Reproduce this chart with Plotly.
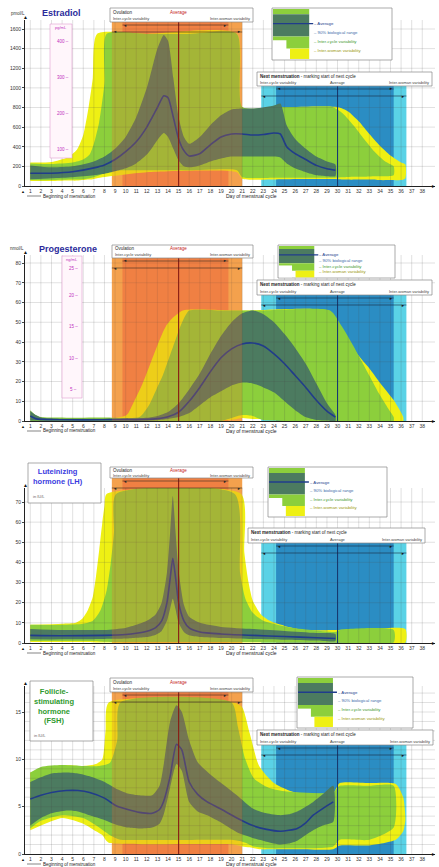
import plotly.graph_objects as go

# ---------------- data ----------------
DAY_TICKS = list(range(1, 39))

# Estradiol, pmol/L
E2_AVG_DAYS = [1, 3, 5, 7, 8, 9, 10, 11, 12, 12.5, 13, 13.6, 14, 14.5, 15, 15.5, 16, 17, 18, 19, 20, 21, 22, 23, 24, 24.6, 25.2, 26, 27, 28, 29, 29.8]
E2_AVG = [130, 130, 145, 185, 215, 270, 350, 450, 600, 700, 800, 920, 900, 700, 480, 360, 305, 330, 420, 500, 530, 530, 520, 525, 540, 530, 400, 330, 270, 210, 175, 160]
E2_RANGE_HI = [210, 190, 200, 250, 300, 380, 500, 700, 1000, 1200, 1400, 1540, 1480, 1100, 700, 500, 430, 500, 620, 720, 780, 790, 790, 800, 820, 840, 620, 480, 380, 300, 250, 220]
E2_RANGE_LO = [70, 80, 90, 110, 125, 150, 180, 230, 320, 390, 470, 540, 500, 380, 260, 200, 190, 210, 250, 280, 300, 300, 300, 300, 300, 290, 230, 180, 140, 110, 100, 100]
E2_CYCLE_DAYS = [1, 3, 5, 6, 6.6, 7, 7.5, 8, 8.2, 12, 16, 20.5, 21, 24, 27, 29.5, 30.5, 31.5, 32.5, 33.5, 34.5, 35.3]
E2_CYCLE_HI = [230, 225, 240, 270, 320, 430, 650, 1050, 1550, 1550, 1550, 1550, 805, 805, 805, 805, 740, 620, 480, 350, 250, 200]
E2_CYCLE_LO = [60, 60, 65, 70, 80, 90, 110, 130, 150, 160, 160, 160, 90, 85, 85, 85, 90, 95, 95, 100, 100, 110]
E2_WOMAN_DAYS = [1, 3, 4.5, 5.4, 6, 6.5, 6.9, 7.3, 12, 20.5, 21, 25, 30, 31, 32, 33, 34, 35, 36, 36.4]
E2_WOMAN_HI = [240, 245, 290, 370, 520, 800, 1100, 1550, 1550, 1550, 805, 805, 805, 760, 660, 530, 410, 310, 240, 220]
E2_WOMAN_LO = [50, 50, 55, 55, 60, 65, 70, 80, 140, 140, 75, 70, 70, 65, 65, 65, 60, 60, 60, 80]
E2_PGML_TICKS = [100, 200, 300, 400]
E2_PMOL_PER_PG = 3.671

# Progesterone, nmol/L
P4_AVG_DAYS = [1, 1.5, 2, 4, 8, 12, 13, 14, 15, 16, 17, 18, 19, 20, 21, 22, 23, 24, 25, 26, 27, 28, 29, 29.8]
P4_AVG = [2.5, 1.2, 0.8, 0.6, 0.6, 0.8, 1.2, 2.2, 4.5, 10, 17, 25, 32, 36.5, 39, 39.5, 38, 34, 29, 23, 17, 10.5, 5, 2]
P4_RANGE_HI = [5, 3, 1.8, 1.2, 1.2, 1.6, 2.5, 4.5, 9, 16, 24, 34, 43, 50, 54.5, 56, 54, 50, 44, 37, 29, 19, 9, 3]
P4_RANGE_LO = [0.3, 0.2, 0.2, 0.2, 0.2, 0.2, 0.4, 1, 2, 4, 8, 12, 15, 18, 19.5, 19, 17, 14.5, 10, 5.5, 2, 0.5, 0.2, 0]
P4_CYCLE_DAYS = [1, 1.5, 2, 8, 11.3, 12.2, 12.9, 13.5, 13.9, 14.5, 15.1, 15.6, 16, 19, 20, 21, 22, 23, 29.3, 30.4, 31.5, 32.3, 33.1, 33.9, 34.7, 35.3]
P4_CYCLE_HI = [5.5, 3, 2, 1.8, 2, 8, 16, 23, 29, 38, 47, 53, 56, 56, 56, 56, 56, 56, 56, 48, 38, 30, 22, 14, 7, 2]
P4_CYCLE_LO = [0, 0, 0, 0, 0, 0, 0, 0, 0, 0, 0, 0, 0, 0, 1.5, 3, 2.5, 0.5, 0, 0, 0, 0, 0, 0, 0, 0]
P4_WOMAN_DAYS = [9, 10.1, 10.8, 11.6, 12.4, 13.2, 13.8, 14.4, 15.4, 20, 21, 22, 28.6, 29.7, 30.9, 32, 33.1, 34.2, 35.3, 36.2]
P4_WOMAN_HI = [1.5, 3, 10, 19, 30, 41, 48, 52, 56, 56, 56, 56, 56, 49, 41, 33, 26, 18, 10.6, 2]
P4_WOMAN_LO = [0, 0, 0, 0, 0, 0, 0, 0, 0, 0.5, 1.5, 1, 0, 0, 0, 0, 0, 0, 0, 0]
P4_NGML_TICKS = [5, 10, 15, 20, 25]
P4_NMOL_PER_NG = 3.18

# Luteinizing hormone, IU/L
LH_AVG_DAYS = [1, 4, 8, 10, 11, 12, 12.8, 13.4, 13.9, 14.2, 14.45, 14.7, 15, 15.5, 16, 17, 19, 22, 25, 28, 29.8]
LH_AVG = [3.8, 3.6, 3.8, 4.2, 4.8, 5.8, 7.5, 11, 20, 32, 42, 33, 20, 11, 7.5, 5.5, 4.5, 3.8, 3.2, 2.6, 2.2]
LH_RANGE_HI = [7, 6.5, 6.5, 7.5, 9, 11, 14, 20, 35, 55, 73, 56, 36, 19, 13, 10, 8, 7, 6, 5, 4.5]
LH_RANGE_LO = [1.8, 1.8, 2, 2.2, 2.6, 3, 4, 6, 11, 17, 22, 17, 10, 5.5, 3.8, 3, 2.5, 2, 1.6, 1.2, 1]
LH_CYCLE_DAYS = [1, 4, 6, 6.9, 7.6, 8.2, 8.6, 8.9, 9.1, 20.3, 20.8, 21.3, 22, 23, 25.2, 27.5, 29.8, 30.2, 35.3]
LH_CYCLE_HI = [9, 9, 9.5, 11, 16, 26, 40, 55, 74, 74, 35, 22, 15, 11, 8, 6.5, 5.5, 6.5, 6.5]
LH_CYCLE_LO = [1, 1, 1, 1, 0.8, 0.6, 0.5, 0.5, 0.5, 0.5, 0.5, 0.5, 0.5, 0.5, 0.5, 0.5, 0.5, 0.3, 0.3]
LH_WOMAN_DAYS = [1, 4, 5.3, 5.9, 6.4, 6.9, 7.2, 7.5, 7.8, 8.0, 8.2, 20.9, 21.2, 21.6, 22, 22.8, 23.6, 25, 26.8, 29.8, 33, 36.4]
LH_WOMAN_HI = [9, 9.5, 10, 12, 16, 23, 33, 46, 60, 68, 74, 74, 45, 30, 21, 14, 11, 8.5, 6.5, 6.5, 7, 7]
LH_WOMAN_LO = [0.5, 0.5, 0.5, 0.5, 0.5, 0.4, 0.3, 0.3, 0.3, 0.2, 0.2, 0.2, 0.2, 0.2, 0.2, 0.2, 0.2, 0.2, 0.2, 0.2, 0.1, 0.1]

# Follicle-stimulating hormone, IU/L
FSH_AVG_DAYS = [1, 2, 3, 4.4, 5.5, 6.6, 8, 9.1, 10.2, 11.3, 12.5, 13.2, 13.6, 14.2, 14.8, 15.3, 16, 16.8, 17.7, 18.9, 20.5, 22, 23.3, 24.6, 25.4, 26.2, 27, 27.7, 28.6, 29.6]
FSH_AVG = [5.8, 6.2, 6.5, 6.7, 6.7, 6.5, 5.9, 5.1, 4.7, 4.4, 4.3, 4.7, 5.6, 8.2, 11.6, 11, 7.6, 6.3, 5.5, 4.8, 3.8, 3, 2.6, 2.4, 2.5, 2.7, 3.3, 4.1, 4.8, 5.5]
FSH_RANGE_HI = [7.6, 8.1, 8.5, 8.6, 8.5, 8.2, 7.6, 6.9, 6.4, 6.2, 6.2, 7.2, 9.5, 14, 15.7, 15, 12, 9.7, 8.7, 7.6, 6.2, 4.8, 4.3, 4.1, 4.2, 4.5, 5, 5.5, 6.3, 7.2]
FSH_RANGE_LO = [3, 3.8, 4.3, 4.6, 4.5, 4.1, 3.6, 3.1, 2.8, 2.7, 2.8, 3.2, 4.2, 7, 9.5, 8.8, 5.5, 4.5, 4.1, 3.4, 2.3, 1.7, 1.3, 1.0, 1.1, 1.4, 2, 2.5, 3, 3.4]
FSH_CYCLE_DAYS = [1, 2, 4, 6, 7.5, 8.5, 9.2, 9.5, 20, 20.6, 21.3, 22.1, 23.5, 25.2, 29.6, 30.2, 33, 35.3]
FSH_CYCLE_HI = [8.6, 9.2, 9.4, 9.3, 9.3, 9.6, 12, 16, 16, 13.4, 10, 8, 7, 6.6, 6.5, 7.2, 7.2, 7.2]
FSH_CYCLE_LO = [2.7, 3.5, 4.1, 3.8, 2.8, 2, 1.6, 1.5, 1.5, 1.4, 1.2, 0.8, 0.6, 0.6, 0.8, 1.5, 1.5, 2.8]
FSH_WOMAN_DAYS = [1, 4, 6, 7.2, 7.8, 8.1, 8.4, 20.2, 21, 21.7, 22.6, 24, 26, 29.6, 30.2, 33, 35.5, 36.2, 36.4]
FSH_WOMAN_HI = [8.6, 9.4, 9.3, 9.5, 10, 13, 16, 16, 15.5, 12.8, 9.3, 7.5, 6.5, 6.5, 7.5, 7.5, 7.4, 6, 4]
FSH_WOMAN_LO = [2.5, 3.8, 3.2, 2.4, 2, 1.5, 1.2, 1, 0.8, 0.7, 0.5, 0.5, 0.5, 0.5, 0.9, 0.9, 1.5, 2.4, 3.5]

# Phase regions (days)
OVULATION_DAY = 15
OVULATION_CYCLE = [9.7, 19.7]
OVULATION_WOMAN = [8.7, 21.0]
NEXT_MENS_DAY = 30
NEXT_MENS_CYCLE = [24.2, 35.3]
NEXT_MENS_WOMAN = [22.8, 36.5]

# ---------------- styling / layout helpers ----------------
W, H = 439, 867
ML, MR = 25, 4
PW = W - ML - MR
FONT = "Liberation Sans, Arial, sans-serif"
X_RANGE = [0.5, 39.2]

C_YELLOW = "#eef014"
C_LGREEN = "#8ccf3c"
C_DGREEN = "#4c7b60"
C_AVG = "#203c8c"
C_OR_IN = "#f2884c"
C_OR_OUT = "#f7b55a"
C_BL_IN = "#2b8dc3"
C_BL_OUT = "#5ad2e6"


def fx(px):
    return (px - ML) / PW


def fy(py):
    return 1 - py / H


PANELS = [
    dict(top=20, axis=186, per_unit=157 / 1600, dtick=200, tmax=1600, grid=200,
         orange_top=22, blue_top=86, ov_box=(110, 8, 253, 22), nm_box=(257, 72, 432, 86),
         legend=(272, 8, 392, 60),
         days=(E2_AVG_DAYS, E2_CYCLE_DAYS, E2_WOMAN_DAYS),
         avg=E2_AVG, rhi=E2_RANGE_HI, rlo=E2_RANGE_LO, chi=E2_CYCLE_HI, clo=E2_CYCLE_LO,
         whi=E2_WOMAN_HI, wlo=E2_WOMAN_LO),
    dict(top=255, axis=421, per_unit=158 / 80, dtick=10, tmax=80, grid=10,
         orange_top=258, blue_top=295, ov_box=(112, 245, 253, 258), nm_box=(257, 280, 432, 295),
         legend=(278, 245, 395, 278),
         days=(P4_AVG_DAYS, P4_CYCLE_DAYS, P4_WOMAN_DAYS),
         avg=P4_AVG, rhi=P4_RANGE_HI, rlo=P4_RANGE_LO, chi=P4_CYCLE_HI, clo=P4_CYCLE_LO,
         whi=P4_WOMAN_HI, wlo=P4_WOMAN_LO),
    dict(top=488, axis=643, per_unit=141 / 70, dtick=10, tmax=70, grid=10,
         orange_top=478, blue_top=543, ov_box=(110, 467, 253, 478), nm_box=(248, 528, 425, 543),
         legend=(268, 467, 387, 517),
         days=(LH_AVG_DAYS, LH_CYCLE_DAYS, LH_WOMAN_DAYS),
         avg=LH_AVG, rhi=LH_RANGE_HI, rlo=LH_RANGE_LO, chi=LH_CYCLE_HI, clo=LH_CYCLE_LO,
         whi=LH_WOMAN_HI, wlo=LH_WOMAN_LO),
    dict(top=686, axis=854, per_unit=142 / 15, dtick=5, tmax=15, grid=1,
         orange_top=692, blue_top=745, ov_box=(110, 678, 253, 692), nm_box=(257, 730, 433, 745),
         legend=(297, 677, 413, 728),
         days=(FSH_AVG_DAYS, FSH_CYCLE_DAYS, FSH_WOMAN_DAYS),
         avg=FSH_AVG, rhi=FSH_RANGE_HI, rlo=FSH_RANGE_LO, chi=FSH_CYCLE_HI, clo=FSH_CYCLE_LO,
         whi=FSH_WOMAN_HI, wlo=FSH_WOMAN_LO),
]

fig = go.Figure()
shapes = []
ann = []


def text(px, py, s, size=5, color="#222", xanchor="left", yanchor="middle", family=FONT):
    ann.append(dict(x=fx(px), y=fy(py), xref="paper", yref="paper", text=s, showarrow=False,
                    xanchor=xanchor, yanchor=yanchor, borderpad=0,
                    font=dict(size=size, color=color, family=family)))


def rect_px(x0, y0, x1, y1, fill, line="rgba(0,0,0,0)", lw=0, layer="above"):
    shapes.append(dict(type="rect", xref="paper", yref="paper", x0=fx(x0), x1=fx(x1), y0=fy(y1), y1=fy(y0),
                       fillcolor=fill, line=dict(color=line, width=lw), layer=layer))


def line_px(x0, y0, x1, y1, color, lw=0.7, layer="above"):
    shapes.append(dict(type="line", xref="paper", yref="paper", x0=fx(x0), x1=fx(x1), y0=fy(y0), y1=fy(y1),
                       line=dict(color=color, width=lw), layer=layer))


def band(days, hi, lo, color, xa, ya):
    d = list(days)
    return go.Scatter(x=d + d[::-1], y=list(hi) + list(lo)[::-1], fill="toself", fillcolor=color,
                      mode="lines", line=dict(width=0, shape="spline", smoothing=0.6),
                      hoverinfo="skip", showlegend=False, xaxis=xa, yaxis=ya)


def dx_to_px(d):
    return ML + (d - X_RANGE[0]) / (X_RANGE[1] - X_RANGE[0]) * PW


layout = dict(width=W, height=H, margin=dict(l=ML, r=MR, t=0, b=0), paper_bgcolor="white",
              plot_bgcolor="rgba(0,0,0,0)", showlegend=False)

for i, p in enumerate(PANELS, start=1):
    sfx = "" if i == 1 else str(i)
    xa, ya = "x" + sfx, "y" + sfx
    ymax = (p["axis"] - p["top"]) / p["per_unit"]
    layout["xaxis" + sfx] = dict(domain=[0, 1], range=X_RANGE, anchor=ya, tickvals=DAY_TICKS,
                                 ticktext=[str(t) for t in DAY_TICKS], tickangle=0, showgrid=False,
                                 zeroline=False, showline=True, linecolor="#222", linewidth=1,
                                 ticks="", ticklabelstandoff=0,
                                 tickfont=dict(size=5, color="#333", family=FONT), automargin=False)
    layout["yaxis" + sfx] = dict(domain=[fy(p["axis"]), fy(p["top"])], range=[0, ymax], anchor=xa,
                                 tickvals=list(range(0, int(p["tmax"]) + 1, p["dtick"])), showgrid=False,
                                 zeroline=False, showline=True, linecolor="#222", linewidth=1,
                                 ticks="outside", ticklen=2, tickcolor="#444",
                                 tickfont=dict(size=5, color="#333", family=FONT), automargin=False)

    ax_py, top_py = p["axis"], p["orange_top"]
    for (a, b), col in ((OVULATION_WOMAN, C_OR_OUT), (OVULATION_CYCLE, C_OR_IN)):
        shapes.append(dict(type="rect", xref=xa, yref="paper", x0=a, x1=b, y0=fy(ax_py), y1=fy(top_py),
                           fillcolor=col, line=dict(width=0), layer="below"))
    for (a, b), col in ((NEXT_MENS_WOMAN, C_BL_OUT), (NEXT_MENS_CYCLE, C_BL_IN)):
        shapes.append(dict(type="rect", xref=xa, yref="paper", x0=a, x1=b, y0=fy(ax_py), y1=fy(p["blue_top"]),
                           fillcolor=col, line=dict(width=0), layer="below"))

    d_avg, d_cyc, d_wom = p["days"]
    fig.add_trace(band(d_wom, p["whi"], p["wlo"], C_YELLOW, xa, ya))
    fig.add_trace(band(d_cyc, p["chi"], p["clo"], C_LGREEN, xa, ya))
    fig.add_trace(band(d_avg, p["rhi"], p["rlo"], C_DGREEN, xa, ya))
    fig.add_trace(go.Scatter(x=d_avg, y=p["avg"], mode="lines",
                             line=dict(color=C_AVG, width=1.6, shape="spline", smoothing=0.6),
                             hoverinfo="skip", showlegend=False, xaxis=xa, yaxis=ya))

    gx, gy = [], []
    for t in DAY_TICKS:
        gx += [t, t, None]
        gy += [0, ymax, None]
    v = p["grid"]
    while v <= ymax:
        gx += [X_RANGE[0], X_RANGE[1], None]
        gy += [v, v, None]
        v += p["grid"]
    fig.add_trace(go.Scatter(x=gx, y=gy, mode="lines", line=dict(color="rgba(70,70,70,0.28)", width=0.6),
                             hoverinfo="skip", showlegend=False, xaxis=xa, yaxis=ya))

    shapes.append(dict(type="rect", xref=xa, yref="paper", x0=OVULATION_WOMAN[0], x1=OVULATION_WOMAN[1],
                       y0=fy(ax_py), y1=fy(top_py), fillcolor="rgba(235,105,40,0.25)",
                       line=dict(width=0), layer="above"))
    shapes.append(dict(type="line", xref=xa, yref="paper", x0=OVULATION_DAY, x1=OVULATION_DAY,
                       y0=fy(ax_py), y1=fy(top_py), line=dict(color="#8a1c14", width=1.1), layer="above"))
    shapes.append(dict(type="line", xref=xa, yref="paper", x0=NEXT_MENS_DAY, x1=NEXT_MENS_DAY,
                       y0=fy(ax_py), y1=fy(p["blue_top"]), line=dict(color="#173a70", width=1.1), layer="above"))

    for (a, b), off in ((OVULATION_CYCLE, 3), (OVULATION_WOMAN, 10)):
        line_px(dx_to_px(a), top_py + off, dx_to_px(b), top_py + off, "#3a2a20", 0.6)
        text(dx_to_px(a), top_py + off, "◄", 4, "#222", "left")
        text(dx_to_px(b), top_py + off, "►", 4, "#222", "right")
    for (a, b), off in ((NEXT_MENS_CYCLE, 3), (NEXT_MENS_WOMAN, 10)):
        line_px(dx_to_px(a), p["blue_top"] + off, dx_to_px(b), p["blue_top"] + off, "#1a2a40", 0.6)
        text(dx_to_px(a), p["blue_top"] + off, "◄", 4, "#111", "left")
        text(dx_to_px(b), p["blue_top"] + off, "►", 4, "#111", "right")

    x0, y0, x1, y1 = p["ov_box"]
    rect_px(x0, y0, x1, y1, "white", "#888", 0.7)
    hh = y1 - y0
    text(x0 + 2, y0 + hh * 0.3, "Ovulation", 4.5, "#222")
    text(dx_to_px(OVULATION_DAY), y0 + hh * 0.3, "Average", 4.5, "#c42020", "center")
    text(x0 + 2, y0 + hh * 0.75, "Inter-cycle variability", 4, "#444")
    text(x1 - 2, y0 + hh * 0.75, "Inter-woman variability", 4, "#444", "right")

    x0, y0, x1, y1 = p["nm_box"]
    rect_px(x0, y0, x1, y1, "white", "#888", 0.7)
    hh = y1 - y0
    text(x0 + 2, y0 + hh * 0.3, "<b>Next menstruation</b> - marking start of next cycle", 4.5, "#222")
    text(x0 + 2, y0 + hh * 0.75, "Inter-cycle variability", 4, "#444")
    text(dx_to_px(NEXT_MENS_DAY), y0 + hh * 0.75, "Average", 4, "#444", "center")
    text(x1 - 2, y0 + hh * 0.75, "Inter-woman variability", 4, "#444", "right")

    x0, y0, x1, y1 = p["legend"]
    w, h = x1 - x0, y1 - y0
    rect_px(x0, y0, x1, y1, "white", "#888", 0.7)
    gx1 = x0 + w * 0.31
    rect_px(x0 + 1, y0 + 1, gx1, y0 + h * 0.12, C_LGREEN)
    rect_px(x0 + 1, y0 + h * 0.12, gx1, y0 + h * 0.55, C_DGREEN)
    rect_px(x0 + 1, y0 + h * 0.55, gx1, y0 + h * 0.78, C_LGREEN)
    rect_px(x0 + 1, y0 + h * 0.62, x0 + w * 0.12, y0 + h * 0.98, "white")
    rect_px(x0 + w * 0.15, y0 + h * 0.78, gx1, y0 + h * 0.98, C_YELLOW)
    line_px(x0 + 1, y0 + h * 0.3, gx1 + 4, y0 + h * 0.3, C_AVG, 1.4)
    rows = [("– Average", C_AVG), ("– 90% biological range", "#3c6aa8"),
            ("– Inter-cycle variability", "#3d9a30"), ("– Inter-woman variability", "#9a9a10")]
    for k, (s, c) in enumerate(rows):
        text(gx1 + 4, y0 + h * (0.3 + 0.17 * k), s, 4.3, c)

    text(25, p["top"] - 3, "▲", 5, "#111", "center")
    text(437, ax_py, "►", 5, "#111", "right")
    text(23, ax_py + 5, "▲", 4, "#111", "center")
    line_px(27, ax_py + 10, 41, ax_py + 10, "#333", 0.6)
    text(42, ax_py + 10, "Beginning of menstruation", 4.5, "#222")
    text(251, ax_py + 10, "Day of menstrual cycle", 5, "#222", "center")

text(18, 13, "pmol/L", 4.5, "#333", "center")
text(41, 13, "<b>Estradiol</b>", 9, "#2b2b9b")
text(17, 249, "nmol/L", 4.5, "#333", "center")
text(38, 249, "<b>Progesterone</b>", 9, "#2b2b9b")

rect_px(50, 24, 72, 158, "#fff6fb", "#e0a0d0", 0.6)
text(61, 28, "pg/mL", 4, "#c030c0", "center")
for t in E2_PGML_TICKS:
    ann.append(dict(x=fx(63), y=t * E2_PMOL_PER_PG, xref="paper", yref="y", text=str(t) + " –",
                    showarrow=False, xanchor="center", font=dict(size=4.5, color="#c030c0", family=FONT)))
rect_px(62, 256, 82, 398, "#fff6fb", "#e0a0d0", 0.6)
text(72, 259, "ng/mL", 4, "#c030c0", "center")
for t in P4_NGML_TICKS:
    ann.append(dict(x=fx(73), y=t * P4_NMOL_PER_NG, xref="paper", yref="y2", text=str(t) + " –",
                    showarrow=False, xanchor="center", yanchor="top" if t == 25 else "middle",
                    font=dict(size=4.5, color="#c030c0", family=FONT)))

rect_px(28, 463, 101, 503, "white", "#888", 0.7)
text(32, 476, "<b>Luteinizing<br>hormone (LH)</b>", 7.5, "#3a3ae0")
text(32, 496, "in IU/L", 4, "#666")

rect_px(30, 681, 93, 741, "white", "#888", 0.7)
text(33, 706, "<b>Follicle-<br>stimulating<br>hormone<br>(FSH)</b>", 7.5, "#2e9a2e")
text(33, 735, "in IU/L", 4, "#666")

layout["shapes"] = shapes
layout["annotations"] = ann
fig.update_layout(**layout)
fig.write_html("out.html", config={"displayModeBar": False, "staticPlot": True},
               post_script="document.body.style.margin='0';document.body.style.padding='0';"
                           "document.body.style.overflow='hidden';")
